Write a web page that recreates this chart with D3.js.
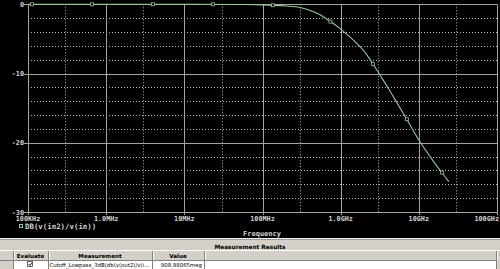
<!doctype html>
<html>
<head>
  <meta charset="utf-8">
  <script src="https://cdnjs.cloudflare.com/ajax/libs/d3/7.8.5/d3.min.js"></script>
  <style>
    body { margin: 0; background: #000; }
    svg { display: block; }
    .mono { font-family: "DejaVu Sans Mono", monospace; font-weight: bold; fill: #d4d4d4; }
    .tbl { font-family: "DejaVu Sans", sans-serif; fill: #000; }
  </style>
</head>
<body>
  <svg id="chart" width="500" height="269"></svg>
  <script>
    // values (Hz, dB)
    var freq = [1e5, 1e6, 1e7, 5e7, 1e8, 2e8, 3e8, 4e8, 5e8, 6e8, 7.28e8, 9.08e8, 1e9, 1.25e9, 1.5e9, 2e9, 2.5e9, 3e9, 4e9, 5e9, 7e9, 1e10, 1.5e10, 2e10, 2.42e10];
    var gain = [0, 0, 0, -0.03, -0.08, -0.25, -0.45, -0.85, -1.3, -1.8, -2.45, -3.2, -3.58, -4.5, -5.33, -6.8, -8.35, -9.75, -12.0, -13.8, -16.6, -19.6, -22.5, -24.4, -25.6];
    var markFreq = [1.125e5, 6.58e5, 3.96e6, 2.32e7, 1.36e8, 7.4e8, 2.58e9, 7.03e9, 1.97e10];
    var markGain = [0, 0, 0, 0, -0.14, -2.5, -8.6, -16.6, -24.3];
    var xTicks = [1e5, 1e6, 1e7, 1e8, 1e9, 1e10, 1e11];
    var xTickLabels = ["100KHz", "1.0MHz", "10MHz", "100MHz", "1.0GHz", "10GHz", "100GHz"];
    var xMinor = [3e5, 3e6, 3e7, 3e8, 3e9, 3e10];
    var yTicks = [0, -10, -20, -30];
    var yMinor = [-2, -4, -6, -8, -12, -14, -16, -18, -22, -24, -26, -28];
    var tableCols = ["Evaluate", "Measurement", "Value"];
    var tableRow = ["", "Cutoff_Lowpass_3dB(db(v(out2)/v(i...", "908.98065meg"];

    var svg = d3.select("#chart");
    var plotL = 28, plotR = 497, plotT = 4.3, plotB = 212;

    var x = d3.scaleLog().domain([1e5, 1e11]).range([plotL, plotR]);
    var y = d3.scaleLinear().domain([-30, 0]).range([plotB, plotT]);

    svg.append("rect").attr("width", 500).attr("height", 269).attr("fill", "#000");

    // dotted minor grid
    svg.selectAll(".vminor").data(xMinor).enter().append("line")
      .attr("x1", d => Math.round(x(d)) + 0.5).attr("x2", d => Math.round(x(d)) + 0.5)
      .attr("y1", plotT).attr("y2", plotB)
      .attr("stroke", "#b8b8b8").attr("stroke-dasharray", "1,2");
    svg.selectAll(".hminor").data(yMinor).enter().append("line")
      .attr("x1", plotL).attr("x2", plotR)
      .attr("y1", d => Math.round(y(d)) + 0.5).attr("y2", d => Math.round(y(d)) + 0.5)
      .attr("stroke", "#b8b8b8").attr("stroke-dasharray", "1,2");

    // solid major grid
    svg.selectAll(".vmajor").data(xTicks).enter().append("line")
      .attr("x1", d => Math.round(x(d)) + 0.5).attr("x2", d => Math.round(x(d)) + 0.5)
      .attr("y1", plotT).attr("y2", plotB + 3)
      .attr("stroke", "#a4a4a4");
    svg.selectAll(".hmajor").data(yTicks).enter().append("line")
      .attr("x1", plotL - 4).attr("x2", plotR)
      .attr("y1", d => Math.round(y(d)) + 0.5).attr("y2", d => Math.round(y(d)) + 0.5)
      .attr("stroke", "#a4a4a4");

    // tick labels
    svg.selectAll(".ylab").data(yTicks).enter().append("text")
      .attr("class", "mono")
      .attr("x", plotL - 4).attr("y", d => y(d) + 2.5)
      .attr("text-anchor", "end").attr("font-size", "6.8px")
      .text(d => d);
    svg.selectAll(".xlab").data(xTicks).enter().append("text")
      .attr("class", "mono")
      .attr("x", (d, i) => i === xTicks.length - 1 ? 499 : x(d))
      .attr("y", 221)
      .attr("text-anchor", (d, i) => i === xTicks.length - 1 ? "end" : "middle")
      .attr("font-size", "6.8px")
      .text((d, i) => xTickLabels[i]);

    svg.append("text").attr("class", "mono")
      .attr("x", 262).attr("y", 236).attr("text-anchor", "middle")
      .attr("font-size", "7px").text("Frequency");

    // legend
    svg.append("rect").attr("x", 19.5).attr("y", 224.5).attr("width", 3).attr("height", 3)
      .attr("fill", "none").attr("stroke", "#a0c8a0");
    svg.append("text").attr("class", "mono")
      .attr("x", 25).attr("y", 229).attr("font-size", "7.4px")
      .text("DB(v(in2)/v(in))");

    // curve
    var line = d3.line()
      .x((d, i) => x(freq[i]))
      .y(d => y(d))
      .curve(d3.curveCatmullRom.alpha(0.5));
    svg.append("path").datum(gain)
      .attr("d", line)
      .attr("fill", "none").attr("stroke", "#96c496").attr("stroke-width", 1.1);
    svg.selectAll(".mk").data(markGain).enter().append("rect")
      .attr("x", (d, i) => x(markFreq[i]) - 1.5).attr("y", d => y(d) - 1.5)
      .attr("width", 3).attr("height", 3)
      .attr("fill", "#000").attr("stroke", "#96c496").attr("stroke-width", 0.8);

    // measurement results panel
    var panelTop = 238;
    svg.append("rect").attr("x", 0).attr("y", panelTop).attr("width", 500).attr("height", 31).attr("fill", "#d4d0c8");
    svg.append("line").attr("x1", 0).attr("x2", 500).attr("y1", panelTop + 0.5).attr("y2", panelTop + 0.5).attr("stroke", "#f4f4f4");
    svg.append("line").attr("x1", 0).attr("x2", 500).attr("y1", panelTop + 1.5).attr("y2", panelTop + 1.5).attr("stroke", "#9a9a9a");
    svg.append("text").attr("class", "tbl")
      .attr("x", 250).attr("y", 248.5).attr("text-anchor", "middle")
      .attr("font-size", "5.8px").attr("font-weight", "bold")
      .text("Measurement Results");
    svg.append("line").attr("x1", 0).attr("x2", 500).attr("y1", 250.5).attr("y2", 250.5).attr("stroke", "#ffffff");

    var colEdges = [13, 48, 152, 204, 496];
    svg.append("rect").attr("x", 0).attr("y", 260).attr("width", 496).attr("height", 9).attr("fill", "#ffffff");
    svg.append("rect").attr("x", 0).attr("y", 260).attr("width", 13).attr("height", 9).attr("fill", "#d4d0c8");
    svg.append("line").attr("x1", 0).attr("x2", 496).attr("y1", 260.5).attr("y2", 260.5).attr("stroke", "#808080");
    svg.selectAll(".col").data(colEdges).enter().append("line")
      .attr("x1", d => d + 0.5).attr("x2", d => d + 0.5)
      .attr("y1", 251).attr("y2", 269)
      .attr("stroke", "#808080");
    svg.selectAll(".colhl").data(colEdges).enter().append("line")
      .attr("x1", d => d + 1.5).attr("x2", d => d + 1.5)
      .attr("y1", 251).attr("y2", 260)
      .attr("stroke", "#ffffff");
    svg.selectAll(".hdr").data(tableCols).enter().append("text")
      .attr("class", "tbl")
      .attr("x", (d, i) => (colEdges[i] + colEdges[i + 1]) / 2)
      .attr("y", 257.5).attr("text-anchor", "middle")
      .attr("font-size", "5.6px").attr("font-weight", "bold")
      .text(d => d);

    // checkbox
    svg.append("rect").attr("x", 27.5).attr("y", 261.5).attr("width", 5).attr("height", 5)
      .attr("fill", "#fff").attr("stroke", "#404040").attr("stroke-width", 0.8);
    svg.append("path").attr("d", "M28.5,264 L30,265.5 L32,262.5")
      .attr("fill", "none").attr("stroke", "#000").attr("stroke-width", 0.9);
    svg.append("text").attr("class", "tbl")
      .attr("x", 49.5).attr("y", 266.8).attr("font-size", "5.4px")
      .text(tableRow[1]);
    svg.append("text").attr("class", "tbl")
      .attr("x", 202).attr("y", 266.8).attr("text-anchor", "end").attr("font-size", "5.4px")
      .text(tableRow[2]);
  </script>
</body>
</html>
